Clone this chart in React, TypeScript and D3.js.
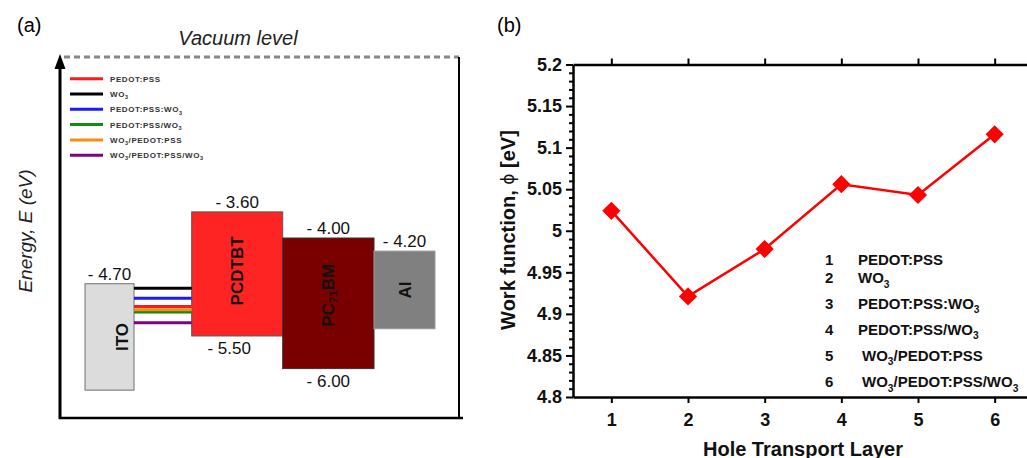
import { useEffect, useRef } from 'react';
import * as d3 from 'd3';

// hole transport layers (legend order = sample number)
const htlNames = ['PEDOT:PSS', 'WO3', 'PEDOT:PSS:WO3', 'PEDOT:PSS/WO3', 'WO3/PEDOT:PSS', 'WO3/PEDOT:PSS/WO3'];
const htlColors = ['#ff1a1a', '#000000', '#1a1aff', '#138a13', '#ff8a12', '#800080'];
const workFunction = [5.024, 4.921, 4.978, 5.056, 5.043, 5.116];

// device layers for the band diagram
const layerNames = ['ITO', 'PCDTBT', 'PC71BM', 'Al'];
const layerTop = [-4.7, -3.6, -4.0, -4.2];
const layerBottom = [-6.33, -5.5, -6.0, -5.39];
const topLabels = ['- 4.70', '- 3.60', '- 4.00', '- 4.20'];
const bottomLabels = ['', '- 5.50', '- 6.00', ''];

const yTicks = [4.8, 4.85, 4.9, 4.95, 5.0, 5.05, 5.1, 5.15, 5.2];
const yTickLabels = ['4.8', '4.85', '4.9', '4.95', '5', '5.05', '5.1', '5.15', '5.2'];
const xTicks = [1, 2, 3, 4, 5, 6];

const FONT = '"Liberation Sans", Arial, sans-serif';

// text with digit runs as subscripts
function richText(sel: any, str: string, fs: number) {
  const parts = str.split(/(\d+)/).filter(s => s.length);
  let shifted = false;
  parts.forEach(p => {
    const isSub = /^\d+$/.test(p);
    const t = sel.append('tspan').text(p);
    if (isSub) {
      t.attr('font-size', fs * 0.68).attr('dy', fs * 0.28);
      shifted = true;
    } else {
      t.attr('font-size', fs);
      if (shifted) { t.attr('dy', -fs * 0.28); shifted = false; }
    }
  });
}

export default function App() {
  const ref = useRef<SVGSVGElement>(null);

  useEffect(() => {
    document.body.style.margin = '0';
    const svg = d3.select(ref.current);
    svg.selectAll('*').remove();

    // ---------- panel (a) ----------
    const a = svg.append('g');
    const e = d3.scaleLinear().domain([-3.6, -6.0]).range([211.9, 368.6]);
    const boxX = [85, 191.7, 282.7, 374];
    const boxW = [49, 91, 91.3, 61];
    const boxFill = ['#dcdcdc', '#ff2424', '#7a0000', '#808080'];
    const boxStroke = ['#707070', '#555', '#333', '#999'];
    const labelFrac = [0.76, 0.5, 0.5, 0.5];

    a.append('text').attr('x', 17).attr('y', 32).attr('font-family', FONT).attr('font-size', 20).text('(a)');
    a.append('text').attr('x', 238).attr('y', 45).attr('text-anchor', 'middle')
      .attr('font-family', FONT).attr('font-size', 20).attr('font-style', 'italic').attr('fill', '#222')
      .text('Vacuum level');

    a.append('line').attr('x1', 64).attr('x2', 459).attr('y1', 57).attr('y2', 57)
      .attr('stroke', '#888').attr('stroke-width', 3).attr('stroke-dasharray', '6 4');
    a.append('line').attr('x1', 459).attr('x2', 459).attr('y1', 57).attr('y2', 418)
      .attr('stroke', '#000').attr('stroke-width', 2);
    a.append('line').attr('x1', 59).attr('x2', 463).attr('y1', 418).attr('y2', 418)
      .attr('stroke', '#000').attr('stroke-width', 2.5);
    a.append('line').attr('x1', 60).attr('x2', 60).attr('y1', 419).attr('y2', 66)
      .attr('stroke', '#000').attr('stroke-width', 3);
    a.append('path').attr('d', 'M60,54 L54.5,69 L65.5,69 Z').attr('fill', '#000');

    const et = a.append('text').attr('transform', 'translate(25,231) rotate(-90)')
      .attr('text-anchor', 'middle').attr('dominant-baseline', 'central')
      .attr('font-family', FONT).attr('font-size', 19).attr('font-style', 'italic').attr('fill', '#222');
    et.append('tspan').text('Energy, E (eV)');

    // legend (a)
    htlNames.forEach((n, i) => {
      const y = 78.7 + i * 15.3;
      a.append('line').attr('x1', 70).attr('x2', 103).attr('y1', y).attr('y2', y)
        .attr('stroke', htlColors[i]).attr('stroke-width', 3);
      const t = a.append('text').attr('x', 110).attr('y', y + 3).attr('font-family', FONT)
        .attr('font-weight', 'bold').attr('fill', '#333').attr('letter-spacing', 0.6);
      richText(t, n, 8);
    });

    // boxes
    layerNames.forEach((n, i) => {
      const y0 = e(layerTop[i]), y1 = e(layerBottom[i]);
      a.append('rect').attr('x', boxX[i]).attr('y', y0).attr('width', boxW[i]).attr('height', y1 - y0)
        .attr('fill', boxFill[i]).attr('stroke', boxStroke[i]).attr('stroke-width', 1);
      const cx = boxX[i] + boxW[i] / 2;
      a.append('text').attr('x', cx).attr('y', y0 - 4).attr('text-anchor', 'middle')
        .attr('font-family', FONT).attr('font-size', 17).attr('fill', '#111').text(topLabels[i]);
      if (bottomLabels[i]) {
        a.append('text').attr('x', cx - (i === 1 ? 8 : 0)).attr('y', y1 + 18).attr('text-anchor', 'middle')
          .attr('font-family', FONT).attr('font-size', 17).attr('fill', '#111').text(bottomLabels[i]);
      }
      const lx = boxX[i] + boxW[i] * labelFrac[i];
      const ly = (y0 + y1) / 2 - (i === 2 ? 8 : i === 1 ? 3 : 0);
      const t = a.append('text').attr('transform', `translate(${lx},${ly}) rotate(-90)`)
        .attr('text-anchor', 'middle').attr('dominant-baseline', 'central')
        .attr('font-family', FONT).attr('font-weight', 'bold').attr('fill', '#111');
      richText(t, n, 17);
    });

    // HTL work-function levels between ITO and PCDTBT
    const wfExt = d3.extent(workFunction) as [number, number];
    const h = d3.scaleLinear().domain(wfExt).range([288.3, 322.7]);
    workFunction.forEach((w, i) => {
      a.append('line').attr('x1', boxX[0] + boxW[0]).attr('x2', boxX[1])
        .attr('y1', h(w)).attr('y2', h(w)).attr('stroke', htlColors[i]).attr('stroke-width', 3);
    });

    // ---------- panel (b) ----------
    const b = svg.append('g');
    const x = d3.scaleLinear().domain([0.5, 6.5]).range([573, 1033]);
    const y = d3.scaleLinear().domain([4.8, 5.2]).range([397, 64.5]);

    b.append('text').attr('x', 497).attr('y', 32).attr('font-family', FONT).attr('font-size', 20).text('(b)');

    // minor ticks
    const minor = d3.range(4.81, 5.2, 0.01).filter(v => Math.abs(Math.round(v * 20) - v * 20) > 0.01);
    b.append('g').attr('transform', 'translate(573,0)')
      .call(d3.axisLeft(y).tickValues(minor).tickSize(4).tickSizeOuter(0).tickFormat(() => ''))
      .call(g => g.select('.domain').remove())
      .call(g => g.selectAll('line').attr('stroke-width', 2));

    b.append('g').attr('transform', 'translate(573,0)')
      .call(d3.axisLeft(y).tickValues(yTicks).tickSize(7).tickSizeOuter(0).tickPadding(4)
        .tickFormat((d, i) => yTickLabels[i]))
      .call(g => g.select('.domain').attr('stroke-width', 2.5))
      .call(g => g.selectAll('line').attr('stroke-width', 2))
      .call(g => g.selectAll('text').attr('font-family', FONT).attr('font-size', 18)
        .attr('font-weight', 'bold').attr('fill', '#111'));

    b.append('g').attr('transform', 'translate(0,397)')
      .call(d3.axisBottom(x).tickValues(xTicks).tickSize(6).tickSizeOuter(0).tickPadding(10)
        .tickFormat(d3.format('d')))
      .call(g => g.select('.domain').attr('stroke-width', 2.5))
      .call(g => g.selectAll('line').attr('stroke-width', 2))
      .call(g => g.selectAll('text').attr('font-family', FONT).attr('font-size', 18)
        .attr('font-weight', 'bold').attr('fill', '#111'));

    b.append('g').attr('transform', 'translate(0,64.5)')
      .call(d3.axisTop(x).tickValues(xTicks).tickSize(6).tickSizeOuter(0).tickFormat(() => ''))
      .call(g => g.select('.domain').attr('stroke-width', 2.5))
      .call(g => g.selectAll('line').attr('stroke-width', 2));

    const yt = b.append('text').attr('transform', 'translate(508,230) rotate(-90)')
      .attr('text-anchor', 'middle').attr('dominant-baseline', 'central')
      .attr('font-family', FONT).attr('font-size', 20).attr('font-weight', 'bold').attr('fill', '#111');
    yt.append('tspan').text('Work function, ');
    yt.append('tspan').attr('font-weight', 'normal').attr('font-family', '"DejaVu Sans", sans-serif')
      .attr('font-size', 17).text('\u03d5');
    yt.append('tspan').text(' [eV]');

    b.append('text').attr('x', 803).attr('y', 455.5).attr('text-anchor', 'middle')
      .attr('font-family', FONT).attr('font-size', 20).attr('font-weight', 'bold').attr('fill', '#111')
      .text('Hole Transport Layer');

    const pts = workFunction.map((w, i) => [xTicks[i], w] as [number, number]);
    b.append('path').datum(pts)
      .attr('d', d3.line<[number, number]>().x(d => x(d[0])).y(d => y(d[1])))
      .attr('fill', 'none').attr('stroke', '#ff0000').attr('stroke-width', 2.5);
    b.selectAll('.mk').data(pts).join('path').attr('class', 'mk')
      .attr('d', d3.symbol(d3.symbolSquare, 165)())
      .attr('transform', d => `translate(${x(d[0])},${y(d[1])}) rotate(45)`)
      .attr('fill', '#ff0000');

    // legend (b)
    const rowY = [265, 283.3, 309, 335, 361, 387.3];
    htlNames.forEach((n, i) => {
      b.append('text').attr('x', 825).attr('y', rowY[i]).attr('font-family', FONT)
        .attr('font-size', 15).attr('font-weight', 'bold').attr('fill', '#111').text(String(xTicks[i]));
      const t = b.append('text').attr('x', i >= 4 ? 862 : 858).attr('y', rowY[i]).attr('font-family', FONT)
        .attr('font-weight', 'bold').attr('fill', '#111');
      richText(t, n, 15);
    });
  }, []);

  return <svg ref={ref} width={1027} height={458} style={{ display: 'block', background: '#fff' }} />;
}
